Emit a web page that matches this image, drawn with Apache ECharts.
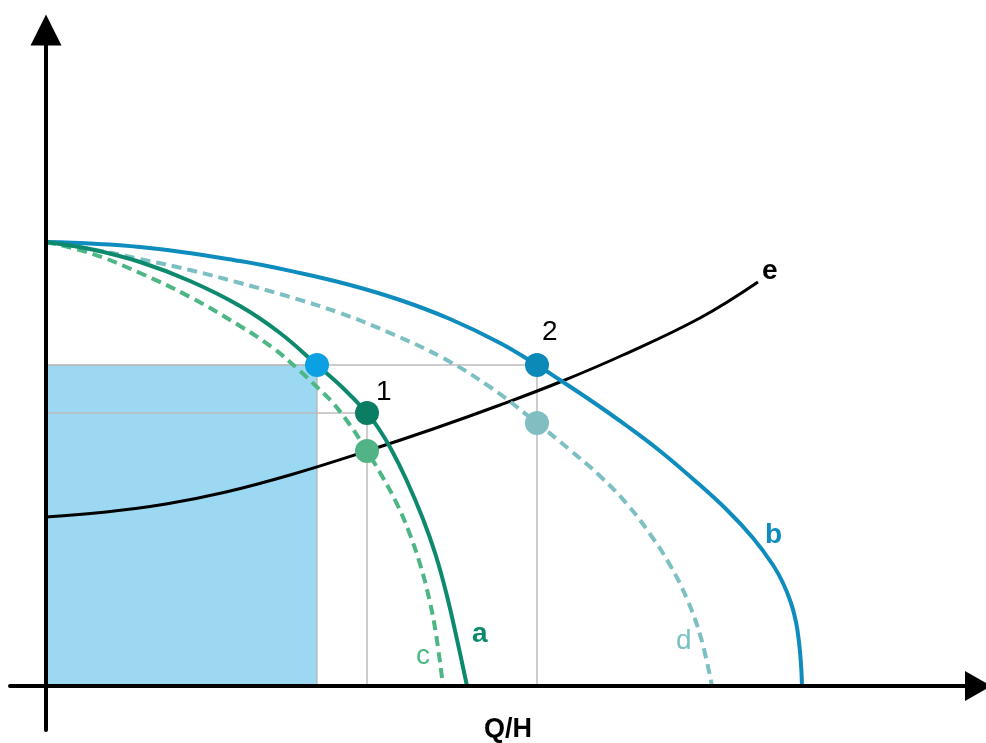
<!DOCTYPE html>
<html>
<head>
<meta charset="utf-8">
<script src="https://cdn.jsdelivr.net/npm/echarts@6/dist/echarts.min.js"></script>
<style>
html,body{margin:0;padding:0;background:#fff;}
#chart{width:986px;height:743px;}
</style>
</head>
<body>
<div id="chart"></div>
<script>
// Curves (x = flow, y = head)
var curveA = [[0,444],[44,437],[94,424],[144,405],[194,380],[234,353],[271,321],[297,298],[321,273],[333,257],[345,237],[360,207],[377,167],[390,130],[401,90],[412,42],[421,0]];
var curveC = [[0,444],[44,433],[94,413],[144,389],[194,360],[227,338],[254,315],[271,299],[287,283],[304,261],[321,235],[336,210],[351,182],[363,154],[374,122],[383,88],[390,52],[397,0]];
var curveD = [[0,444],[50,436],[94,427],[144,416],[194,403],[244,389],[294,373],[344,353],[397,328],[444,299],[491,263],[524,236],[554,210],[581,182],[604,152],[624,121],[641,87],[655,48],[666,0]];
var curveB = [[0,444],[94,439],[194,425],[254,413],[304,401],[354,386],[404,367],[454,343],[491,321],[514,306],[547,284],[581,260],[614,235],[647,207],[681,176],[707,148],[727,121],[737,103],[745,83],[750,64],[753,44],[755,22],[756,0]];
var curveE = [[0,169],[60,174],[120,182],[180,194],[244,211],[321,235],[387,257],[454,281],[514,304],[577,331],[654,368],[712,404]];

// Operating points
var pointBlue = [271,321];
var point1 = [321,273];
var pointC = [321,235];
var point2 = [491,321];
var pointD = [491,263];

var colA = '#0d8a6e', colC = '#4cb784', colB = '#0e8cbd', colD = '#7dc0c3', colE = '#000000';
var gridCol = '#bdbdbd';

function curve(data, color, dashed, width){
  return {type:'line', data:data, smooth:0.4, symbol:'none', z:5,
    lineStyle:{color:color, width:width||4, type: dashed ? [10,6] : 'solid'}, silent:true};
}
function seg(a, b){
  return {type:'line', data:[a,b], symbol:'none', z:3, silent:true,
    lineStyle:{color:gridCol, width:1.5}};
}
function pt(p, color){
  return {type:'scatter', data:[p], symbol:'circle', symbolSize:24, z:8, silent:true,
    itemStyle:{color:color, opacity:1}};
}

var series = [
  {type:'line', data:[], silent:true, z:1,
   markArea:{silent:true, itemStyle:{color:'#9dd8f2', borderColor:'#a8a8a8', borderWidth:1},
     data:[[{coord:[0,0]},{coord:pointBlue}]]}},
  seg([0,point2[1]], point2),
  seg(point2, [point2[0],0]),
  seg([0,point1[1]], point1),
  seg(point1, [point1[0],0]),
  curve(curveE, colE, false, 3),
  curve(curveD, colD, true),
  curve(curveB, colB, false),
  curve(curveC, colC, true),
  curve(curveA, colA, false),
  pt(pointBlue, '#0aa0e2'),
  pt(point1, '#0b7d62'),
  pt(pointC, '#52b486'),
  pt(point2, '#0b8ab8'),
  pt(pointD, '#80bec2')
];

var axisCommon = {
  type:'value', z:10,
  axisTick:{show:false}, axisLabel:{show:false}, splitLine:{show:false},
  axisLine:{show:true, onZero:true, symbol:['none','triangle'],
    lineStyle:{color:'#000', width:4}}
};

var chart = echarts.init(document.getElementById('chart'));
chart.setOption({
  animation:false,
  backgroundColor:'#fff',
  grid:{left:10, right:8, top:30, bottom:13},
  xAxis: Object.assign({}, axisCommon, {min:-36, max:932,
    axisLine:Object.assign({}, axisCommon.axisLine, {symbolSize:[30,26]})}),
  yAxis: Object.assign({}, axisCommon, {min:-44, max:656,
    axisLine:Object.assign({}, axisCommon.axisLine, {symbolSize:[31,31]})}),
  series: series,
  graphic: [
    {type:'text', left:472, top:620, style:{text:'a', font:'bold 28px "Liberation Sans", Arial', fill:colA}, z:20},
    {type:'text', left:416, top:642, style:{text:'c', font:'28px "Liberation Sans", Arial', fill:colC}, z:20},
    {type:'text', left:676, top:627, style:{text:'d', font:'28px "Liberation Sans", Arial', fill:colD}, z:20},
    {type:'text', left:765, top:521, style:{text:'b', font:'bold 28px "Liberation Sans", Arial', fill:colB}, z:20},
    {type:'text', left:762, top:257, style:{text:'e', font:'bold 28px "Liberation Sans", Arial', fill:'#000'}, z:20},
    {type:'text', left:376, top:378, style:{text:'1', font:'28px "Liberation Sans", Arial', fill:'#000'}, z:20},
    {type:'text', left:542, top:318, style:{text:'2', font:'28px "Liberation Sans", Arial', fill:'#000'}, z:20},
    {type:'text', left:484, top:716, style:{text:'Q/H', font:'bold 27px "Liberation Sans", Arial', fill:'#000'}, z:20}
  ]
});
</script>
</body>
</html>
